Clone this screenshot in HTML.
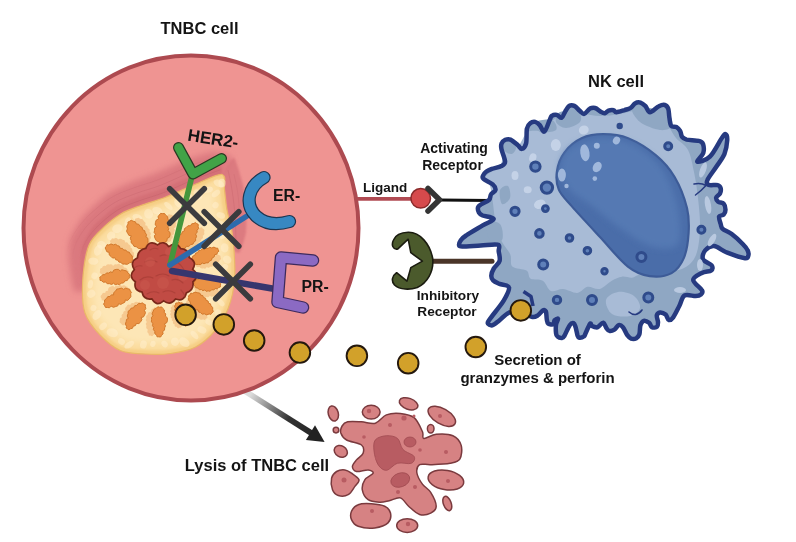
<!DOCTYPE html><html><head><meta charset="utf-8"><style>html,body{margin:0;padding:0;background:#fff;width:796px;height:542px;overflow:hidden}svg{display:block}</style></head><body><svg width="796" height="542" viewBox="0 0 796 542"><defs><linearGradient id="arrowg" x1="250" y1="395" x2="320" y2="439" gradientUnits="userSpaceOnUse"><stop offset="0" stop-color="#dcdcdc"/><stop offset="0.55" stop-color="#333"/><stop offset="1" stop-color="#222"/></linearGradient></defs>
<path d="M244 390.5 L312 433.5" stroke="url(#arrowg)" stroke-width="5.8"/>
<ellipse cx="191" cy="228" rx="167.5" ry="172.5" fill="#ef9492" stroke="#ad4a50" stroke-width="4"/>
<line x1="357" y1="198.8" x2="412" y2="198.8" stroke="#b04a52" stroke-width="3.8"/>
<defs><filter id="blur6" x="-50%" y="-50%" width="200%" height="200%"><feGaussianBlur stdDeviation="6"/></filter><filter id="blur3" x="-50%" y="-50%" width="200%" height="200%"><feGaussianBlur stdDeviation="3"/></filter><filter id="blur1" x="-50%" y="-50%" width="200%" height="200%"><feGaussianBlur stdDeviation="1.2"/></filter></defs>
<path d="M84.0 290.0 C85.0 287.2 84.1 266.2 84.5 262.0 C84.9 257.8 86.5 251.0 88.0 248.0 C89.5 245.0 95.8 235.3 99.0 232.0 C102.2 228.7 115.8 217.2 120.0 214.5 C124.2 211.8 136.5 207.2 141.0 205.5 C145.5 203.8 159.6 199.6 165.0 197.5 C170.4 195.4 189.3 186.8 195.0 184.5 C200.7 182.2 218.3 177.2 222.0 174.5 C225.7 171.8 232.8 160.3 232.0 158.0 C231.2 155.7 218.3 151.8 213.7 152.0 C209.0 152.2 191.1 158.3 185.3 160.4 C179.5 162.5 160.9 171.1 155.6 173.3 C150.3 175.4 137.0 180.0 132.2 182.1 C127.3 184.2 112.1 190.7 107.2 194.2 C102.3 197.7 86.8 212.3 83.1 216.8 C79.4 221.3 71.4 234.9 70.0 239.3 C68.5 243.7 68.2 255.4 68.6 260.5 C69.0 265.5 72.5 286.9 74.0 289.8 C75.5 292.8 83.0 292.8 84.0 290.0Z" fill="#d8747c" opacity="0.85" filter="url(#blur3)"/>
<path d="M84.0 290.0 C84.2 287.2 84.1 266.2 84.5 262.0 C84.9 257.8 86.5 251.0 88.0 248.0 C89.5 245.0 95.8 235.3 99.0 232.0 C102.2 228.7 115.8 217.2 120.0 214.5 C124.2 211.8 136.5 207.2 141.0 205.5 C145.5 203.8 159.6 199.6 165.0 197.5 C170.4 195.4 189.3 186.8 195.0 184.5 C200.7 182.2 219.6 176.3 222.0 174.5 C224.4 172.7 221.9 165.9 218.9 166.1 C215.8 166.2 197.3 173.8 191.6 176.2 C185.9 178.5 167.1 187.0 161.7 189.1 C156.4 191.2 142.5 195.3 137.8 197.1 C133.2 198.9 119.7 203.9 115.2 206.9 C110.7 209.8 96.5 222.6 93.2 226.5 C90.0 230.3 83.9 241.9 82.6 245.4 C81.3 248.9 80.6 257.2 80.5 261.6 C80.5 266.1 81.7 287.1 82.0 290.0 C82.3 292.8 83.8 292.8 84.0 290.0Z" fill="#d06a72" opacity="0.6" filter="url(#blur1)"/>
<defs><linearGradient id="strg" x1="85" y1="275" x2="140" y2="200" gradientUnits="userSpaceOnUse"><stop offset="0" stop-color="#bd5a64" stop-opacity="0"/><stop offset="0.6" stop-color="#bd5a64" stop-opacity="1"/></linearGradient></defs>
<path d="M79.5 261.5 C80.2 258.9 80.9 251.3 83.5 245.8 C86.1 240.3 89.7 234.5 95.4 228.5 C101.0 222.6 110.0 214.9 117.3 210.3 C124.6 205.7 131.6 203.7 139.2 200.8 C146.9 197.9 154.2 196.3 163.2 192.8 C172.2 189.3 183.6 183.7 193.1 179.9 C202.6 176.0 215.7 171.5 220.3 169.8" fill="none" stroke="url(#strg)" stroke-width="0.9" opacity="0.4"/>
<path d="M71.6 260.8 C72.3 257.7 73.3 248.6 76.3 242.3 C79.3 236.1 83.5 229.5 89.6 223.0 C95.7 216.5 105.3 208.5 113.1 203.5 C120.9 198.6 128.5 196.4 136.4 193.3 C144.3 190.3 151.3 188.9 160.3 185.4 C169.2 181.9 180.6 176.3 190.1 172.4 C199.7 168.6 212.9 164.0 217.5 162.3" fill="none" stroke="url(#strg)" stroke-width="0.9" opacity="0.3"/>
<path d="M65.6 260.2 C66.5 256.8 67.6 246.6 70.9 239.7 C74.2 232.8 78.8 225.8 85.3 218.9 C91.8 212.0 101.7 203.6 109.9 198.4 C118.0 193.2 126.2 190.8 134.3 187.7 C142.3 184.6 149.2 183.3 158.1 179.8 C167.0 176.3 178.3 170.7 187.9 166.9 C197.4 163.0 210.8 158.4 215.4 156.7" fill="none" stroke="url(#strg)" stroke-width="0.9" opacity="0.22"/>
<path d="M222.0 174.5 C221.1 177.7 224.0 186.4 224.5 190.0 C225.0 193.6 226.3 206.1 227.0 210.0 C227.7 213.9 230.8 225.0 231.5 229.0 C232.2 233.0 233.2 247.7 234.0 250.0 C234.8 252.3 238.8 253.8 240.0 252.0 C241.2 250.2 245.4 236.2 246.0 232.0 C246.6 227.8 246.3 214.7 246.0 210.0 C245.7 205.3 244.2 190.2 243.0 185.0 C241.8 179.8 236.1 159.1 234.0 158.0 C231.9 156.9 222.9 171.3 222.0 174.5Z" fill="#d8747c" opacity="0.8" filter="url(#blur1)"/>
<path d="M228.0 170.0 C228.7 173.3 230.8 182.5 232.0 190.0 C233.2 197.5 234.3 206.7 235.0 215.0 C235.7 223.3 235.8 235.8 236.0 240.0" fill="none" stroke="#bd5a64" stroke-width="0.9" opacity="0.3"/>
<path d="M234.0 174.0 C234.7 177.5 237.0 187.3 238.0 195.0 C239.0 202.7 239.7 215.8 240.0 220.0" fill="none" stroke="#bd5a64" stroke-width="0.9" opacity="0.22"/>
<path d="M222.0 174.5 C226.9 175.4 223.7 184.1 224.5 190.0 C225.3 195.9 225.8 203.5 227.0 210.0 C228.2 216.5 230.3 222.3 231.5 229.0 C232.7 235.7 233.5 241.5 234.0 250.0 C234.5 258.5 235.5 270.3 234.6 280.0 C233.7 289.7 231.5 299.7 228.3 308.0 C225.2 316.3 221.1 323.5 215.7 330.0 C210.2 336.5 203.1 343.1 195.6 347.0 C188.1 350.9 178.9 352.3 170.5 353.5 C162.1 354.7 153.8 354.5 145.4 354.0 C137.0 353.5 127.9 353.7 120.3 350.5 C112.7 347.3 105.9 341.2 100.0 335.0 C94.1 328.8 87.9 321.7 85.0 313.0 C82.1 304.3 82.1 293.8 82.6 283.0 C83.1 272.2 85.3 256.5 88.0 248.0 C90.7 239.5 93.7 237.6 99.0 232.0 C104.3 226.4 113.0 218.9 120.0 214.5 C127.0 210.1 133.5 208.3 141.0 205.5 C148.5 202.7 156.0 201.0 165.0 197.5 C174.0 194.0 185.5 188.3 195.0 184.5 C204.5 180.7 217.1 173.6 222.0 174.5Z" fill="#f6cf86" stroke="#eab868" stroke-width="1.2"/>
<path d="M221.3 178.4 C225.3 178.8 220.2 185.2 220.5 190.6 C220.8 195.9 221.9 204.2 223.1 210.7 C224.2 217.2 226.4 223.1 227.6 229.7 C228.7 236.3 229.5 241.9 230.0 250.2 C230.5 258.6 231.5 270.2 230.6 279.6 C229.7 289.0 227.6 298.6 224.6 306.6 C221.6 314.6 217.8 321.3 212.6 327.4 C207.5 333.6 200.9 339.8 193.8 343.5 C186.6 347.1 178.0 348.4 169.9 349.5 C161.9 350.6 153.7 350.5 145.6 350.0 C137.6 349.6 129.0 349.8 121.8 346.8 C114.7 343.9 108.4 338.1 102.9 332.3 C97.4 326.4 91.5 319.9 88.8 311.7 C86.1 303.6 86.1 293.6 86.6 283.2 C87.1 272.8 89.3 257.3 91.8 249.2 C94.4 241.2 96.8 240.0 101.9 234.8 C106.9 229.5 115.4 222.1 122.1 217.9 C128.9 213.6 135.0 212.0 142.4 209.2 C149.8 206.5 157.4 204.7 166.4 201.2 C175.5 197.7 187.4 192.0 196.5 188.2 C205.6 184.4 217.3 178.0 221.3 178.4Z" fill="#fbdc9e" filter="url(#blur1)"/>
<path d="M220.0 185.3 C222.4 184.8 214.2 187.1 213.6 191.5 C213.0 196.0 215.0 205.4 216.2 211.9 C217.3 218.5 219.5 224.4 220.7 230.9 C221.8 237.4 222.5 242.7 223.0 250.7 C223.5 258.7 224.5 270.0 223.7 278.9 C222.8 287.8 220.7 296.8 218.0 304.1 C215.3 311.4 211.9 317.4 207.3 322.9 C202.7 328.5 196.9 334.0 190.5 337.2 C184.1 340.5 176.4 341.6 169.0 342.6 C161.6 343.6 153.5 343.4 146.1 343.0 C138.7 342.6 130.9 342.9 124.5 340.4 C118.2 337.8 112.9 332.6 108.0 327.5 C103.2 322.3 97.8 316.8 95.4 309.5 C93.0 302.2 93.1 293.2 93.6 283.5 C94.1 273.8 96.2 258.7 98.5 251.4 C100.7 244.0 102.4 244.2 107.0 239.6 C111.5 235.0 119.5 227.8 125.9 223.8 C132.2 219.8 137.7 218.5 144.9 215.8 C152.1 213.1 159.9 211.3 169.0 207.8 C178.0 204.2 190.6 198.4 199.1 194.7 C207.6 191.0 217.6 185.8 220.0 185.3Z" fill="#fde6b6" filter="url(#blur3)"/>
<ellipse cx="222.0" cy="183.2" rx="4.4" ry="3.6" transform="rotate(91 222.0 183.2)" fill="#fff0cf" stroke="none" stroke-width="0" opacity="0.5"/>
<ellipse cx="215.9" cy="193.5" rx="4.8" ry="2.9" transform="rotate(142 215.9 193.5)" fill="#fff0cf" stroke="none" stroke-width="0" opacity="0.5"/>
<ellipse cx="215.5" cy="205.2" rx="3.3" ry="3.1" transform="rotate(124 215.5 205.2)" fill="#fff0cf" stroke="none" stroke-width="0" opacity="0.5"/>
<ellipse cx="220.8" cy="215.4" rx="3.1" ry="4.5" transform="rotate(110 220.8 215.4)" fill="#fff0cf" stroke="none" stroke-width="0" opacity="0.5"/>
<ellipse cx="221.5" cy="223.7" rx="3.5" ry="2.5" transform="rotate(34 221.5 223.7)" fill="#fff0cf" stroke="none" stroke-width="0" opacity="0.5"/>
<ellipse cx="223.2" cy="236.1" rx="3.7" ry="2.6" transform="rotate(151 223.2 236.1)" fill="#fff0cf" stroke="none" stroke-width="0" opacity="0.5"/>
<ellipse cx="224.6" cy="247.9" rx="4.6" ry="3.8" transform="rotate(82 224.6 247.9)" fill="#fff0cf" stroke="none" stroke-width="0" opacity="0.5"/>
<ellipse cx="227.2" cy="259.6" rx="3.8" ry="4.5" transform="rotate(127 227.2 259.6)" fill="#fff0cf" stroke="none" stroke-width="0" opacity="0.5"/>
<ellipse cx="224.6" cy="267.5" rx="3.9" ry="3.0" transform="rotate(137 224.6 267.5)" fill="#fff0cf" stroke="none" stroke-width="0" opacity="0.5"/>
<ellipse cx="225.0" cy="282.0" rx="4.2" ry="4.2" transform="rotate(152 225.0 282.0)" fill="#fff0cf" stroke="none" stroke-width="0" opacity="0.5"/>
<ellipse cx="224.6" cy="290.8" rx="3.0" ry="2.9" transform="rotate(176 224.6 290.8)" fill="#fff0cf" stroke="none" stroke-width="0" opacity="0.5"/>
<ellipse cx="221.1" cy="302.7" rx="4.2" ry="2.6" transform="rotate(48 221.1 302.7)" fill="#fff0cf" stroke="none" stroke-width="0" opacity="0.5"/>
<ellipse cx="217.9" cy="312.6" rx="3.3" ry="3.2" transform="rotate(21 217.9 312.6)" fill="#fff0cf" stroke="none" stroke-width="0" opacity="0.5"/>
<ellipse cx="208.8" cy="322.3" rx="3.7" ry="2.7" transform="rotate(31 208.8 322.3)" fill="#fff0cf" stroke="none" stroke-width="0" opacity="0.5"/>
<ellipse cx="201.9" cy="329.9" rx="4.7" ry="3.4" transform="rotate(23 201.9 329.9)" fill="#fff0cf" stroke="none" stroke-width="0" opacity="0.5"/>
<ellipse cx="194.5" cy="335.0" rx="4.9" ry="2.7" transform="rotate(48 194.5 335.0)" fill="#fff0cf" stroke="none" stroke-width="0" opacity="0.5"/>
<ellipse cx="184.3" cy="342.2" rx="5.9" ry="4.1" transform="rotate(37 184.3 342.2)" fill="#fff0cf" stroke="none" stroke-width="0" opacity="0.5"/>
<ellipse cx="175.0" cy="341.7" rx="4.2" ry="4.2" transform="rotate(178 175.0 341.7)" fill="#fff0cf" stroke="none" stroke-width="0" opacity="0.5"/>
<ellipse cx="164.6" cy="344.0" rx="3.6" ry="3.0" transform="rotate(53 164.6 344.0)" fill="#fff0cf" stroke="none" stroke-width="0" opacity="0.5"/>
<ellipse cx="152.9" cy="343.9" rx="3.2" ry="2.7" transform="rotate(108 152.9 343.9)" fill="#fff0cf" stroke="none" stroke-width="0" opacity="0.5"/>
<ellipse cx="143.4" cy="344.4" rx="4.1" ry="3.4" transform="rotate(103 143.4 344.4)" fill="#fff0cf" stroke="none" stroke-width="0" opacity="0.5"/>
<ellipse cx="129.3" cy="344.7" rx="5.6" ry="2.9" transform="rotate(147 129.3 344.7)" fill="#fff0cf" stroke="none" stroke-width="0" opacity="0.5"/>
<ellipse cx="121.5" cy="341.5" rx="3.7" ry="2.9" transform="rotate(35 121.5 341.5)" fill="#fff0cf" stroke="none" stroke-width="0" opacity="0.5"/>
<ellipse cx="112.3" cy="332.7" rx="5.9" ry="4.3" transform="rotate(18 112.3 332.7)" fill="#fff0cf" stroke="none" stroke-width="0" opacity="0.5"/>
<ellipse cx="103.1" cy="326.2" rx="3.1" ry="4.4" transform="rotate(46 103.1 326.2)" fill="#fff0cf" stroke="none" stroke-width="0" opacity="0.5"/>
<ellipse cx="97.0" cy="315.0" rx="5.5" ry="3.7" transform="rotate(129 97.0 315.0)" fill="#fff0cf" stroke="none" stroke-width="0" opacity="0.5"/>
<ellipse cx="93.5" cy="308.1" rx="3.2" ry="3.0" transform="rotate(110 93.5 308.1)" fill="#fff0cf" stroke="none" stroke-width="0" opacity="0.5"/>
<ellipse cx="91.3" cy="293.8" rx="3.8" ry="4.3" transform="rotate(48 91.3 293.8)" fill="#fff0cf" stroke="none" stroke-width="0" opacity="0.5"/>
<ellipse cx="90.4" cy="284.2" rx="4.3" ry="2.6" transform="rotate(102 90.4 284.2)" fill="#fff0cf" stroke="none" stroke-width="0" opacity="0.5"/>
<ellipse cx="94.6" cy="275.8" rx="3.4" ry="3.2" transform="rotate(118 94.6 275.8)" fill="#fff0cf" stroke="none" stroke-width="0" opacity="0.5"/>
<ellipse cx="93.3" cy="261.1" rx="5.1" ry="3.7" transform="rotate(3 93.3 261.1)" fill="#fff0cf" stroke="none" stroke-width="0" opacity="0.5"/>
<ellipse cx="98.2" cy="250.2" rx="5.7" ry="3.9" transform="rotate(114 98.2 250.2)" fill="#fff0cf" stroke="none" stroke-width="0" opacity="0.5"/>
<ellipse cx="101.4" cy="244.9" rx="4.4" ry="4.0" transform="rotate(13 101.4 244.9)" fill="#fff0cf" stroke="none" stroke-width="0" opacity="0.5"/>
<ellipse cx="111.1" cy="235.8" rx="4.6" ry="4.0" transform="rotate(126 111.1 235.8)" fill="#fff0cf" stroke="none" stroke-width="0" opacity="0.5"/>
<ellipse cx="117.4" cy="228.6" rx="5.4" ry="4.3" transform="rotate(162 117.4 228.6)" fill="#fff0cf" stroke="none" stroke-width="0" opacity="0.5"/>
<ellipse cx="127.9" cy="222.7" rx="5.6" ry="3.3" transform="rotate(103 127.9 222.7)" fill="#fff0cf" stroke="none" stroke-width="0" opacity="0.5"/>
<ellipse cx="137.2" cy="217.4" rx="4.9" ry="3.3" transform="rotate(14 137.2 217.4)" fill="#fff0cf" stroke="none" stroke-width="0" opacity="0.5"/>
<ellipse cx="148.6" cy="213.9" rx="4.9" ry="4.5" transform="rotate(69 148.6 213.9)" fill="#fff0cf" stroke="none" stroke-width="0" opacity="0.5"/>
<ellipse cx="157.3" cy="210.8" rx="5.2" ry="3.7" transform="rotate(15 157.3 210.8)" fill="#fff0cf" stroke="none" stroke-width="0" opacity="0.5"/>
<ellipse cx="168.4" cy="205.9" rx="5.3" ry="2.6" transform="rotate(41 168.4 205.9)" fill="#fff0cf" stroke="none" stroke-width="0" opacity="0.5"/>
<ellipse cx="178.5" cy="203.3" rx="5.1" ry="3.5" transform="rotate(46 178.5 203.3)" fill="#fff0cf" stroke="none" stroke-width="0" opacity="0.5"/>
<ellipse cx="188.9" cy="196.1" rx="3.0" ry="3.1" transform="rotate(30 188.9 196.1)" fill="#fff0cf" stroke="none" stroke-width="0" opacity="0.5"/>
<ellipse cx="198.0" cy="194.5" rx="5.7" ry="3.8" transform="rotate(58 198.0 194.5)" fill="#fff0cf" stroke="none" stroke-width="0" opacity="0.5"/>
<ellipse cx="208.1" cy="189.8" rx="5.0" ry="2.9" transform="rotate(164 208.1 189.8)" fill="#fff0cf" stroke="none" stroke-width="0" opacity="0.5"/>
<ellipse cx="218.8" cy="183.4" rx="5.6" ry="3.3" transform="rotate(24 218.8 183.4)" fill="#fff0cf" stroke="none" stroke-width="0" opacity="0.5"/>
<path d="M146.5 245.9 Q148.8 246.5 148.6 244.1 Q151.1 242.4 149.7 239.7 Q151.9 237.8 150.1 235.5 Q151.8 233.3 149.5 231.7 Q150.4 229.1 147.8 228.3 Q147.9 225.4 145.0 225.2 Q146.5 222.9 144.1 221.5 Q143.1 218.5 140.0 218.9 Q138.9 216.7 137.0 218.3 Q134.5 218.2 135.1 220.6 Q132.6 222.3 134.1 224.9 Q132.6 227.3 135.0 228.7 Q133.4 230.9 135.7 232.4 Q134.2 234.8 136.6 236.1 Q134.7 238.2 136.8 240.1 Q136.0 242.8 138.8 243.4 Q140.2 246.4 143.5 245.8 Q145.0 247.8 146.5 245.9Z" fill="#f4c389" opacity="0.85"/>
<path d="M164.8 242.3 Q166.7 244.2 168.3 242.0 Q171.3 241.9 171.3 238.9 Q173.7 237.6 172.1 235.3 Q174.7 234.5 173.8 232.0 Q175.8 230.1 173.8 228.2 Q176.4 227.5 175.6 224.8 Q177.0 222.3 174.5 220.9 Q175.6 218.2 173.0 216.8 Q173.2 214.3 170.7 214.8 Q168.5 213.3 167.4 215.6 Q164.7 216.3 165.5 219.0 Q162.7 219.5 163.3 222.2 Q160.9 223.4 162.3 225.8 Q159.4 225.9 159.3 228.9 Q156.9 230.2 158.5 232.5 Q157.3 235.1 159.8 236.5 Q159.2 239.5 162.1 240.7 Q162.4 243.2 164.8 242.3Z" fill="#f4c389" opacity="0.85"/>
<path d="M183.3 249.0 Q183.7 251.3 185.6 249.9 Q188.2 251.5 190.1 249.1 Q192.7 250.1 193.7 247.5 Q196.4 248.1 196.7 245.4 Q199.4 244.6 198.5 242.0 Q201.2 242.2 201.2 239.5 Q203.8 238.4 202.7 235.8 Q205.2 234.6 204.0 232.0 Q205.3 229.7 202.8 228.8 Q201.8 226.4 199.8 227.9 Q197.1 226.9 196.2 229.6 Q193.6 228.1 192.0 230.6 Q189.2 230.5 189.5 233.2 Q186.7 233.3 187.0 236.0 Q184.3 235.4 183.9 238.1 Q181.6 239.9 183.1 242.4 Q180.6 243.8 181.9 246.4 Q180.8 248.6 183.3 249.0Z" fill="#f4c389" opacity="0.85"/>
<path d="M194.0 263.5 Q193.2 265.7 195.5 265.5 Q196.9 268.0 199.4 266.7 Q200.7 269.3 203.4 268.2 Q205.8 269.5 206.7 267.0 Q208.8 268.7 210.2 266.4 Q212.8 267.3 213.5 264.7 Q216.2 265.1 216.5 262.3 Q219.2 262.9 219.7 260.2 Q222.0 259.4 220.5 257.3 Q221.0 254.9 218.5 255.0 Q217.2 252.5 214.5 253.7 Q212.8 251.6 210.9 253.5 Q208.3 252.6 207.7 255.2 Q205.7 253.4 204.1 255.6 Q202.1 253.7 200.6 255.9 Q198.5 254.2 197.1 256.4 Q194.0 257.4 194.4 260.6 Q192.2 261.8 194.0 263.5Z" fill="#f4c389" opacity="0.85"/>
<path d="M194.5 286.3 Q192.7 287.8 194.9 288.9 Q194.2 292.0 197.1 293.3 Q197.9 295.7 200.1 294.5 Q200.9 296.9 203.2 295.7 Q203.9 298.1 206.2 296.9 Q208.8 298.1 210.0 295.5 Q211.3 297.7 213.2 296.0 Q215.6 297.3 216.9 294.8 Q219.3 295.3 219.0 292.8 Q220.4 290.9 218.1 290.5 Q218.2 287.7 215.4 287.7 Q215.6 284.9 212.8 284.9 Q212.0 282.4 209.8 283.7 Q207.8 281.9 206.3 284.0 Q205.8 281.5 203.4 282.4 Q202.2 280.1 200.2 281.7 Q197.2 281.1 196.2 284.0 Q193.7 284.0 194.5 286.3Z" fill="#f4c389" opacity="0.85"/>
<path d="M188.6 297.8 Q186.2 298.0 187.4 300.0 Q185.1 302.4 186.7 305.3 Q186.5 307.9 189.2 307.8 Q187.6 310.2 190.0 311.8 Q190.7 314.4 193.3 313.5 Q192.7 316.1 195.4 316.4 Q196.1 319.1 198.8 318.2 Q200.5 320.6 203.1 319.2 Q204.9 320.9 206.1 318.6 Q208.4 317.9 207.0 315.9 Q208.9 313.6 206.9 311.4 Q207.8 308.9 205.2 308.2 Q205.2 305.5 202.5 305.8 Q203.6 303.3 201.1 302.4 Q200.7 299.7 198.1 300.3 Q197.7 297.6 195.1 298.3 Q193.6 295.7 191.1 297.0 Q189.2 295.5 188.6 297.8Z" fill="#f4c389" opacity="0.85"/>
<path d="M174.5 304.9 Q172.3 303.9 172.1 306.4 Q169.8 307.5 171.4 309.6 Q169.3 311.0 171.1 312.7 Q169.1 314.2 171.0 315.8 Q169.9 318.0 172.3 318.6 Q170.9 320.6 173.2 321.4 Q172.1 323.7 174.6 324.2 Q174.1 326.7 176.7 326.8 Q177.4 329.2 179.4 327.7 Q181.9 328.2 181.7 325.7 Q183.9 324.4 182.0 322.6 Q183.8 320.9 181.7 319.6 Q184.1 318.6 182.8 316.3 Q184.0 314.2 181.6 313.5 Q183.0 311.5 180.7 310.7 Q182.7 309.2 180.8 307.6 Q179.8 304.7 176.8 305.4 Q176.1 303.2 174.5 304.9Z" fill="#f4c389" opacity="0.85"/>
<path d="M156.6 308.1 Q154.8 306.3 153.6 308.5 Q150.7 308.8 151.1 311.7 Q148.0 311.7 147.6 314.7 Q145.2 315.9 146.5 318.2 Q144.8 320.4 147.1 322.1 Q144.8 323.6 146.5 325.7 Q145.4 328.4 148.0 329.8 Q146.4 332.1 148.7 333.7 Q148.3 336.1 150.7 335.6 Q152.7 337.0 153.4 334.7 Q156.2 334.1 155.5 331.4 Q158.2 330.7 157.4 328.0 Q160.1 327.4 159.5 324.7 Q162.3 324.3 161.8 321.5 Q164.1 319.9 162.4 317.8 Q163.9 315.4 161.5 313.9 Q162.0 310.8 159.1 309.6 Q158.9 307.2 156.6 308.1Z" fill="#f4c389" opacity="0.85"/>
<path d="M140.5 303.1 Q140.0 300.8 138.2 302.3 Q135.6 300.8 133.8 303.2 Q131.1 302.2 130.2 304.9 Q127.6 303.8 126.5 306.5 Q124.1 308.2 125.7 310.7 Q123.0 310.8 123.3 313.5 Q120.7 314.7 122.0 317.2 Q119.3 317.7 119.9 320.3 Q118.8 322.8 121.3 323.7 Q122.4 326.1 124.6 324.7 Q127.3 325.6 128.1 322.9 Q130.7 323.5 131.2 320.8 Q133.8 321.9 134.9 319.3 Q137.5 318.3 136.4 315.7 Q139.1 315.7 138.9 313.0 Q141.6 312.2 140.6 309.6 Q143.1 308.1 141.7 305.6 Q142.9 303.5 140.5 303.1Z" fill="#f4c389" opacity="0.85"/>
<path d="M127.9 288.8 Q128.5 286.4 126.1 286.6 Q124.3 284.3 121.9 285.9 Q120.0 284.0 118.1 286.0 Q115.6 284.8 114.6 287.3 Q112.8 285.1 110.6 286.8 Q107.6 287.7 108.1 290.7 Q105.3 290.4 105.1 293.1 Q102.5 292.2 101.8 294.8 Q99.6 296.5 101.5 298.4 Q101.3 301.0 103.8 300.5 Q105.6 302.8 108.0 301.1 Q109.9 303.1 111.8 301.0 Q114.4 301.8 115.1 299.2 Q116.7 301.7 119.3 300.2 Q122.2 300.3 122.2 297.5 Q125.1 297.7 125.2 294.8 Q128.1 294.6 127.9 291.7 Q129.9 290.3 127.9 288.8Z" fill="#f4c389" opacity="0.85"/>
<path d="M128.2 273.2 Q129.8 271.2 127.5 270.2 Q127.0 267.3 124.0 267.5 Q123.4 264.7 120.5 265.2 Q119.1 262.9 116.9 264.5 Q114.3 263.4 113.1 266.0 Q112.1 263.4 109.6 264.6 Q106.9 263.4 105.7 266.0 Q102.9 265.2 101.9 267.9 Q99.3 268.3 100.2 270.8 Q98.9 273.1 101.4 274.0 Q101.9 276.9 104.8 276.5 Q105.8 279.1 108.4 278.1 Q110.3 280.1 112.1 278.0 Q113.2 280.5 115.6 279.1 Q118.0 280.6 119.4 278.2 Q121.4 280.1 123.1 277.9 Q125.8 278.9 126.9 276.3 Q129.4 275.5 128.2 273.2Z" fill="#f4c389" opacity="0.85"/>
<path d="M132.7 257.8 Q135.2 257.1 133.8 255.0 Q134.9 252.3 132.2 251.2 Q133.1 248.5 130.4 247.6 Q131.2 245.0 128.5 244.2 Q127.6 241.6 125.1 242.6 Q125.4 239.9 122.6 239.8 Q120.5 237.7 118.1 239.5 Q116.4 237.2 114.0 238.7 Q111.9 237.3 111.2 239.7 Q109.0 240.9 110.7 242.6 Q109.1 245.4 111.5 247.4 Q110.6 250.1 113.3 250.9 Q112.8 253.6 115.5 254.0 Q116.9 256.5 119.4 255.1 Q120.2 257.7 122.8 256.8 Q122.9 259.5 125.6 259.1 Q127.9 261.1 130.3 259.1 Q132.5 260.2 132.7 257.8Z" fill="#f4c389" opacity="0.85"/>
<path d="M144.3 248.1 Q146.7 248.3 145.9 246.1 Q148.8 243.9 148.0 240.3 Q148.6 237.6 145.9 236.9 Q147.5 234.5 145.2 232.8 Q145.4 229.9 142.5 229.7 Q143.0 226.9 140.2 226.4 Q139.3 223.5 136.3 223.9 Q136.0 221.0 133.1 221.2 Q131.1 219.3 129.5 221.4 Q127.1 221.7 128.1 223.9 Q125.8 226.1 127.4 228.9 Q125.6 231.2 127.7 233.3 Q128.3 236.2 131.3 235.9 Q129.3 238.2 131.2 240.5 Q130.2 243.1 132.9 244.2 Q133.4 247.1 136.4 246.8 Q138.4 249.5 141.7 248.4 Q143.2 250.3 144.3 248.1Z" fill="#eb9244" stroke="#d27a2e" stroke-width="1"/>
<path d="M161.7 243.1 Q163.8 244.6 164.9 242.2 Q167.7 241.4 167.2 238.4 Q170.2 237.8 170.1 234.7 Q170.7 231.7 167.9 230.7 Q169.8 228.7 167.7 226.9 Q170.3 225.7 169.1 223.1 Q170.4 220.5 167.9 219.2 Q168.5 216.2 165.6 215.2 Q165.1 212.7 162.7 213.6 Q160.3 212.4 159.3 215.0 Q157.0 216.6 158.7 218.8 Q155.6 219.4 155.4 222.6 Q154.3 225.3 156.9 226.5 Q154.0 227.3 154.5 230.3 Q153.2 232.8 155.7 234.2 Q153.3 235.7 154.9 238.0 Q155.7 241.5 159.2 242.0 Q159.7 244.4 161.7 243.1Z" fill="#eb9244" stroke="#d27a2e" stroke-width="1"/>
<path d="M180.2 248.0 Q181.1 250.3 183.0 248.7 Q185.8 249.1 186.3 246.3 Q189.2 247.3 190.7 244.6 Q193.6 244.9 193.9 242.1 Q196.5 241.2 195.6 238.6 Q197.6 236.2 195.5 233.9 Q198.1 232.8 197.0 230.2 Q199.5 228.8 198.1 226.3 Q199.2 224.0 196.7 223.6 Q195.3 221.5 194.0 223.5 Q191.1 223.0 190.5 225.8 Q187.6 224.8 186.1 227.6 Q183.4 228.3 184.3 231.0 Q181.5 231.1 181.7 233.9 Q178.9 233.6 178.6 236.4 Q176.9 239.2 179.2 241.5 Q177.0 243.4 178.7 245.8 Q177.8 248.0 180.2 248.0Z" fill="#eb9244" stroke="#d27a2e" stroke-width="1"/>
<path d="M192.0 260.9 Q191.5 263.2 193.8 262.6 Q195.5 265.4 198.7 264.5 Q201.3 265.5 202.0 262.8 Q204.0 264.8 206.0 262.8 Q208.6 263.8 209.4 261.1 Q212.2 260.9 212.1 258.0 Q215.0 257.5 214.7 254.6 Q217.4 255.0 217.7 252.2 Q219.9 251.4 218.2 249.7 Q218.2 247.3 216.0 248.2 Q214.0 246.1 211.8 248.0 Q209.7 246.2 208.0 248.5 Q205.7 247.1 204.4 249.5 Q202.2 248.0 200.7 250.3 Q198.0 249.9 197.7 252.6 Q194.9 252.5 194.8 255.3 Q191.9 255.6 192.1 258.5 Q190.1 259.6 192.0 260.9Z" fill="#eb9244" stroke="#d27a2e" stroke-width="1"/>
<path d="M194.0 282.9 Q192.5 284.8 194.8 285.7 Q195.2 288.5 198.0 288.1 Q198.9 290.7 201.4 289.5 Q202.8 291.7 204.8 289.9 Q206.0 292.3 208.1 290.8 Q210.5 292.2 211.7 289.7 Q214.2 290.9 215.2 288.4 Q217.5 289.8 218.7 287.5 Q221.2 287.5 220.4 285.2 Q221.7 282.9 219.2 282.3 Q218.2 279.9 215.8 281.2 Q214.7 278.8 212.5 280.3 Q211.9 277.6 209.2 278.2 Q207.4 276.3 205.8 278.3 Q204.8 275.9 202.4 277.1 Q199.7 276.4 198.8 279.1 Q196.0 278.4 195.2 281.1 Q193.0 280.9 194.0 282.9Z" fill="#eb9244" stroke="#d27a2e" stroke-width="1"/>
<path d="M190.0 294.8 Q187.5 295.5 188.8 297.7 Q187.6 300.4 190.2 301.9 Q189.6 304.6 192.3 305.1 Q191.9 307.8 194.6 308.1 Q195.4 310.8 198.0 309.9 Q197.8 312.7 200.6 312.6 Q201.9 315.1 204.4 313.8 Q206.7 315.9 209.2 313.9 Q211.1 315.4 211.8 313.1 Q214.2 311.9 212.7 309.7 Q213.6 307.0 211.0 306.0 Q211.3 303.3 208.5 303.1 Q208.8 300.4 206.1 300.3 Q206.3 297.5 203.5 297.5 Q203.5 294.8 200.7 295.1 Q200.5 292.4 197.8 292.8 Q194.9 291.1 192.5 293.4 Q190.2 292.3 190.0 294.8Z" fill="#eb9244" stroke="#d27a2e" stroke-width="1"/>
<path d="M177.5 302.9 Q175.1 302.4 175.4 304.8 Q173.5 306.6 175.6 308.1 Q173.6 309.7 175.5 311.6 Q174.5 313.9 177.0 314.3 Q175.1 316.2 177.3 317.6 Q176.1 319.9 178.6 320.5 Q178.5 323.1 181.1 322.8 Q181.7 325.5 184.5 324.9 Q185.0 327.1 186.7 325.6 Q189.1 325.6 188.3 323.3 Q190.0 321.4 187.8 320.1 Q190.2 318.7 188.7 316.4 Q189.0 313.8 186.4 313.9 Q187.8 311.8 185.4 310.9 Q186.7 308.7 184.2 308.0 Q186.1 306.2 183.9 304.7 Q182.8 302.0 180.0 303.0 Q178.8 300.9 177.5 302.9Z" fill="#eb9244" stroke="#d27a2e" stroke-width="1"/>
<path d="M159.7 307.3 Q157.5 305.8 156.4 308.2 Q153.2 308.7 152.9 311.9 Q151.0 314.0 153.1 315.8 Q150.5 317.0 151.6 319.6 Q150.4 322.3 153.0 323.5 Q151.5 325.9 153.8 327.4 Q152.4 329.8 154.8 331.3 Q154.0 334.1 156.7 335.2 Q156.4 337.6 158.7 336.8 Q161.0 337.9 161.6 335.4 Q164.1 334.0 162.6 331.6 Q165.4 330.6 164.7 327.8 Q166.5 325.7 164.4 323.9 Q167.5 323.3 167.5 320.2 Q168.2 317.3 165.4 316.2 Q166.7 313.7 164.2 312.3 Q165.4 309.7 162.8 308.4 Q161.9 306.0 159.7 307.3Z" fill="#eb9244" stroke="#d27a2e" stroke-width="1"/>
<path d="M143.6 304.0 Q142.7 301.8 140.9 303.5 Q138.0 302.6 136.8 305.4 Q134.0 305.0 133.5 307.9 Q130.6 307.3 129.9 310.1 Q127.2 310.9 128.1 313.6 Q126.2 316.1 128.4 318.4 Q125.7 318.8 126.2 321.5 Q124.4 324.1 126.6 326.4 Q125.2 328.3 127.5 328.8 Q128.9 330.8 130.3 328.8 Q133.1 329.0 133.3 326.2 Q136.1 326.3 136.3 323.5 Q139.3 324.5 140.7 321.8 Q142.9 319.7 141.1 317.4 Q143.9 317.9 144.5 315.0 Q146.5 312.6 144.4 310.4 Q146.8 308.8 145.3 306.3 Q146.1 304.0 143.6 304.0Z" fill="#eb9244" stroke="#d27a2e" stroke-width="1"/>
<path d="M130.3 291.1 Q130.4 288.5 127.8 288.8 Q125.5 287.1 123.7 289.4 Q121.5 287.1 118.9 288.8 Q116.1 288.3 115.7 291.0 Q112.9 292.1 113.6 295.0 Q111.0 293.9 110.0 296.5 Q107.3 295.7 106.6 298.4 Q103.8 299.5 104.5 302.4 Q102.6 304.2 104.7 305.8 Q105.0 308.3 107.4 307.5 Q109.9 308.7 111.1 306.1 Q113.3 308.3 115.8 306.5 Q118.6 306.5 118.5 303.6 Q120.8 305.4 122.8 303.3 Q125.6 302.8 125.3 299.9 Q127.8 301.4 129.2 298.9 Q131.8 296.9 130.7 293.7 Q132.4 292.1 130.3 291.1Z" fill="#eb9244" stroke="#d27a2e" stroke-width="1"/>
<path d="M129.3 276.2 Q130.6 274.0 128.1 273.2 Q127.2 270.1 123.9 270.3 Q121.6 268.8 120.2 271.2 Q119.0 268.4 116.1 269.4 Q113.0 269.4 112.5 272.5 Q110.3 270.9 108.7 273.1 Q106.1 272.0 105.0 274.7 Q102.2 273.8 101.3 276.4 Q98.9 276.7 100.0 278.8 Q99.3 281.1 101.6 280.7 Q103.0 283.2 105.6 281.9 Q106.8 284.6 109.6 283.7 Q111.8 285.4 113.5 283.2 Q115.0 285.6 117.4 284.1 Q119.8 285.6 121.2 283.2 Q124.1 283.7 124.9 280.9 Q127.8 281.3 128.5 278.4 Q130.8 278.0 129.3 276.2Z" fill="#eb9244" stroke="#d27a2e" stroke-width="1"/>
<path d="M132.0 260.9 Q134.1 259.9 132.3 258.3 Q133.1 255.3 130.3 254.2 Q129.9 251.4 127.2 251.8 Q126.3 249.2 123.7 250.1 Q122.9 247.5 120.2 248.4 Q120.2 245.6 117.4 245.6 Q115.7 243.3 113.3 244.9 Q111.0 243.0 108.8 245.0 Q106.7 243.8 106.4 246.2 Q104.2 247.8 106.0 249.8 Q106.3 252.6 109.1 252.3 Q108.3 255.2 111.1 256.5 Q112.3 259.0 114.8 257.7 Q115.1 260.5 117.9 260.2 Q118.4 262.9 121.1 262.3 Q121.9 265.0 124.6 264.0 Q127.7 265.2 129.9 262.6 Q132.1 263.3 132.0 260.9Z" fill="#eb9244" stroke="#d27a2e" stroke-width="1"/>
<path d="M134.3 269.6 Q129.3 261.8 137.5 257.7 Q137.8 249.6 145.8 248.4 Q149.4 239.4 157.5 244.9 Q164.1 239.8 168.9 246.7 Q175.9 240.5 180.7 248.6 Q189.0 249.2 189.2 257.5 Q197.5 261.5 192.7 269.3 Q200.6 275.4 192.9 281.9 Q194.3 290.2 186.4 292.9 Q184.3 302.1 175.5 299.0 Q170.5 305.9 163.6 300.9 Q156.5 307.2 151.9 298.9 Q143.7 300.2 142.0 292.0 Q133.2 290.5 135.4 281.8 Q127.7 276.3 134.3 269.6Z" fill="#c14b44" stroke="#7a281a" stroke-width="1.7"/>
<path d="M145 262 q6 -4 12 0" fill="none" stroke="#a23a34" stroke-width="1.1" opacity="0.6" stroke-linecap="round"/>
<path d="M160 256 q7 -3 12 2" fill="none" stroke="#a23a34" stroke-width="1.1" opacity="0.6" stroke-linecap="round"/>
<path d="M176 262 q5 2 8 8" fill="none" stroke="#a23a34" stroke-width="1.1" opacity="0.6" stroke-linecap="round"/>
<path d="M140 280 q6 -5 13 -2" fill="none" stroke="#a23a34" stroke-width="1.1" opacity="0.6" stroke-linecap="round"/>
<path d="M156 276 q7 -4 13 0" fill="none" stroke="#a23a34" stroke-width="1.1" opacity="0.6" stroke-linecap="round"/>
<path d="M172 280 q6 -2 11 3" fill="none" stroke="#a23a34" stroke-width="1.1" opacity="0.6" stroke-linecap="round"/>
<path d="M147 294 q6 -4 12 -1" fill="none" stroke="#a23a34" stroke-width="1.1" opacity="0.6" stroke-linecap="round"/>
<path d="M163 292 q6 -3 12 1" fill="none" stroke="#a23a34" stroke-width="1.1" opacity="0.6" stroke-linecap="round"/>
<path d="M150 250 q4 -3 8 -1" fill="none" stroke="#a23a34" stroke-width="1.1" opacity="0.6" stroke-linecap="round"/>
<path d="M181 290 q3 3 4 7" fill="none" stroke="#a23a34" stroke-width="1.1" opacity="0.6" stroke-linecap="round"/>
<path d="M134 268 q4 -3 8 -2" fill="none" stroke="#a23a34" stroke-width="1.1" opacity="0.6" stroke-linecap="round"/>
<circle cx="150" cy="262" r="5" fill="#cc5a50" opacity="0.45"/>
<circle cx="170" cy="252" r="5" fill="#cc5a50" opacity="0.45"/>
<circle cx="163" cy="283" r="6" fill="#cc5a50" opacity="0.45"/>
<circle cx="183" cy="276" r="5" fill="#cc5a50" opacity="0.45"/>
<circle cx="145" cy="285" r="5" fill="#cc5a50" opacity="0.45"/>
<line x1="170" y1="265" x2="192" y2="176" stroke="#45963c" stroke-width="5.6" stroke-linecap="round"/>
<line x1="170" y1="265" x2="247" y2="216" stroke="#2d6bad" stroke-width="5.6" stroke-linecap="round"/>
<line x1="172" y1="271" x2="275" y2="289" stroke="#36366e" stroke-width="6.5" stroke-linecap="round"/>
<path d="M178.5 147.5 L193 174 L221.5 158.5" fill="none" stroke="#2a3a22" stroke-width="11" stroke-linecap="round" stroke-linejoin="round"/>
<path d="M178.5 147.5 L193 174 L221.5 158.5" fill="none" stroke="#41a347" stroke-width="8.6" stroke-linecap="round" stroke-linejoin="round"/>
<path d="M264 177.5 C248.5 186 244 204 256 216 C265.5 224.5 278 225 289.5 221.5" fill="none" stroke="#1d3752" stroke-width="13.2" stroke-linecap="round"/>
<path d="M264 177.5 C248.5 186 244 204 256 216 C265.5 224.5 278 225 289.5 221.5" fill="none" stroke="#3788c2" stroke-width="10.8" stroke-linecap="round"/>
<path d="M313 260.5 L281 257.5 L277.5 302 L303 307.5" fill="none" stroke="#3d2a5c" stroke-width="12.5" stroke-linecap="round" stroke-linejoin="round"/>
<path d="M313 260.5 L281 257.5 L277.5 302 L303 307.5" fill="none" stroke="#8b6ac3" stroke-width="10" stroke-linecap="round" stroke-linejoin="round"/>
<path d="M169.7 188.7 L204.3 223.3 M204.3 188.7 L169.7 223.3" stroke="#3b3b3e" stroke-width="5.6" stroke-linecap="round"/>
<path d="M204.2 211.7 L238.8 246.3 M238.8 211.7 L204.2 246.3" stroke="#3b3b3e" stroke-width="5.6" stroke-linecap="round"/>
<path d="M215.7 264.2 L250.3 298.8 M250.3 264.2 L215.7 298.8" stroke="#3b3b3e" stroke-width="5.6" stroke-linecap="round"/>
<line x1="440" y1="200" x2="490" y2="200.5" stroke="#111" stroke-width="3"/>
<circle cx="420.7" cy="198.3" r="9.8" fill="#d64a4c" stroke="#8a2a2a" stroke-width="1.5"/>
<path d="M428 188.5 L439.5 199.7 L428 211" fill="none" stroke="#343434" stroke-width="5.5" stroke-linecap="round" stroke-linejoin="round"/>
<line x1="430" y1="261.2" x2="492" y2="261.2" stroke="#4a3528" stroke-width="5" stroke-linecap="round"/>
<path d="M397.9 248.9 C393 250 391 245 393.5 240 C396 234 402 232.5 408.2 232.3 C420 232 430 244 432.7 258.5 C434 272 427 283 417.3 287.5 C410 290 400 290 394.5 285 C391 281 392 276 396.6 272.7 L407 281.1 L410.8 267.6 L422.4 261.1 L410.8 252.7 L408.2 239.2 Z" fill="#4b5a2c" stroke="#1b1c10" stroke-width="1.6" stroke-linejoin="round"/>
<path d="M459.1 245.2 C458.9 244.2 459.7 241.9 460.8 240.3 C462.0 238.6 462.4 237.9 466.1 235.5 C469.7 233.0 478.1 228.2 482.7 225.4 C487.3 222.7 493.7 220.7 493.7 219.0 C493.7 217.3 485.2 216.5 482.7 215.5 C480.2 214.4 479.7 213.8 478.9 212.5 C478.2 211.2 477.7 208.7 478.0 207.4 C478.4 206.0 479.0 205.7 480.8 204.5 C482.6 203.2 487.4 201.6 489.1 199.9 C490.8 198.3 489.9 196.1 491.0 194.4 C492.0 192.7 495.3 191.5 495.5 189.9 C495.8 188.2 494.7 186.2 492.7 184.4 C490.7 182.6 485.1 180.4 483.5 178.9 C481.9 177.5 482.6 176.8 483.1 175.5 C483.6 174.3 485.0 172.6 486.4 171.5 C487.9 170.4 489.3 169.8 491.8 168.9 C494.3 168.0 499.2 167.3 501.4 166.1 C503.7 164.9 505.1 164.5 505.1 161.6 C505.1 158.7 501.9 151.8 501.4 148.8 C500.8 145.8 500.9 145.0 501.6 143.5 C502.2 142.0 503.8 140.5 505.3 139.8 C506.7 139.2 508.4 138.7 510.5 139.6 C512.6 140.5 516.0 143.6 517.9 145.2 C519.7 146.7 520.2 149.2 521.6 148.9 C522.9 148.6 525.2 146.7 526.1 143.3 C527.0 140.0 526.2 132.1 526.9 128.7 C527.6 125.4 528.8 124.4 530.2 123.3 C531.5 122.2 533.6 121.6 535.2 121.9 C536.8 122.2 538.2 123.5 539.7 125.1 C541.2 126.7 542.7 132.4 544.4 131.5 C546.1 130.6 548.5 122.3 549.8 119.7 C551.0 117.0 550.7 116.5 551.9 115.8 C553.1 115.0 555.4 114.6 557.0 115.0 C558.7 115.3 560.3 118.4 561.7 117.8 C563.0 117.2 564.1 113.3 565.3 111.3 C566.5 109.4 567.6 106.9 569.1 106.0 C570.6 105.1 572.5 105.1 574.3 105.9 C576.1 106.7 578.2 109.5 579.8 110.9 C581.5 112.2 582.5 114.3 584.2 113.9 C585.9 113.5 588.1 109.6 589.9 108.6 C591.8 107.6 593.3 107.4 595.1 108.0 C596.9 108.5 599.1 110.8 600.7 111.7 C602.3 112.6 603.6 113.4 604.9 113.2 C606.2 113.0 607.1 111.2 608.5 110.7 C610.0 110.2 612.4 110.0 613.7 110.3 C615.0 110.5 614.5 112.3 616.3 112.3 C618.1 112.2 622.1 110.8 624.5 110.1 C626.9 109.3 628.8 109.0 630.6 107.9 C632.4 106.7 633.6 104.1 635.3 103.2 C636.9 102.3 638.8 102.1 640.5 102.6 C642.2 103.1 643.9 104.6 645.5 106.2 C647.1 107.8 647.7 112.2 650.0 112.2 C652.2 112.2 656.4 107.3 658.9 106.2 C661.4 105.0 663.2 104.6 664.8 105.0 C666.4 105.5 667.5 106.8 668.3 108.9 C669.0 111.0 668.9 114.8 669.4 117.7 C669.9 120.5 670.0 124.4 671.2 125.9 C672.4 127.5 675.0 126.3 676.5 127.1 C677.9 128.0 679.2 129.2 680.1 130.8 C681.1 132.5 681.0 135.5 682.1 136.9 C683.2 138.4 683.9 138.9 686.7 139.6 C689.6 140.2 696.3 140.1 699.0 140.9 C701.8 141.6 702.4 142.1 703.1 144.2 C703.7 146.2 704.2 150.3 703.2 153.2 C702.3 156.1 696.3 161.1 697.4 161.7 C698.5 162.2 705.8 160.6 709.9 156.6 C714.0 152.7 719.3 141.5 722.0 137.7 C724.6 134.0 724.9 133.7 725.8 134.2 C726.7 134.6 727.4 137.1 727.2 140.4 C727.0 143.7 726.2 149.7 724.4 154.1 C722.5 158.5 719.1 162.5 716.3 166.8 C713.5 171.2 708.6 177.0 707.4 180.1 C706.1 183.1 707.0 184.1 708.8 184.9 C710.5 185.7 715.8 184.5 717.8 185.1 C719.7 185.6 720.3 186.9 720.7 188.3 C721.0 189.7 720.8 191.9 720.0 193.5 C719.3 195.0 716.5 196.2 716.2 197.5 C715.9 198.9 717.0 200.7 718.2 201.7 C719.5 202.7 722.5 202.3 723.7 203.7 C724.9 205.0 725.5 207.8 725.5 209.7 C725.5 211.5 724.8 213.4 723.7 214.6 C722.7 215.7 719.6 215.0 719.1 216.5 C718.6 218.1 720.1 221.9 720.7 224.0 C721.3 226.0 720.9 227.2 722.7 228.9 C724.5 230.6 728.4 231.5 731.7 234.1 C735.0 236.6 740.1 241.3 742.7 244.0 C745.4 246.7 746.6 248.2 747.5 250.1 C748.5 251.9 748.8 253.8 748.4 255.2 C747.9 256.6 748.5 258.7 745.0 258.3 C741.5 257.8 732.5 254.7 727.3 252.7 C722.2 250.7 717.7 246.5 714.0 246.1 C710.3 245.7 707.0 248.3 705.2 250.4 C703.3 252.6 701.9 256.8 703.0 259.2 C704.1 261.7 710.3 263.5 711.6 265.3 C713.0 267.2 712.9 269.3 711.2 270.5 C709.6 271.8 705.0 271.3 701.9 272.9 C698.9 274.5 693.2 277.0 693.2 279.9 C693.2 282.8 700.8 287.9 702.0 290.4 C703.3 292.8 701.8 293.7 700.7 294.6 C699.7 295.6 698.5 296.0 695.8 296.1 C693.1 296.3 687.3 293.9 684.5 295.5 C681.8 297.2 681.2 302.4 679.3 306.0 C677.4 309.7 675.0 314.9 673.2 317.3 C671.5 319.6 670.1 320.4 668.8 320.0 C667.5 319.5 667.0 315.7 665.6 314.4 C664.1 313.2 661.5 312.3 660.1 312.4 C658.6 312.6 657.2 313.8 656.8 315.4 C656.5 317.0 657.9 320.0 658.0 321.9 C658.0 323.8 658.1 325.8 657.1 326.7 C656.1 327.6 653.3 327.9 651.9 327.3 C650.6 326.6 650.5 323.9 649.1 322.8 C647.8 321.8 645.1 320.4 643.7 320.8 C642.2 321.2 641.2 323.0 640.4 325.3 C639.7 327.5 640.1 332.1 639.4 334.3 C638.7 336.4 637.7 337.4 636.3 338.2 C635.0 338.9 632.6 339.1 631.1 338.6 C629.6 338.1 628.7 337.1 627.3 335.2 C625.9 333.3 624.4 328.9 622.9 327.2 C621.5 325.6 620.0 324.8 618.6 325.2 C617.2 325.6 616.0 328.7 614.4 329.7 C612.9 330.6 610.7 331.2 609.4 330.9 C608.1 330.7 607.5 329.6 606.5 328.2 C605.5 326.8 604.5 323.0 603.3 322.7 C602.0 322.4 599.9 325.4 598.8 326.2 C597.8 327.0 598.1 327.5 597.0 327.5 C595.8 327.5 593.1 326.7 592.0 326.1 C590.8 325.4 591.2 322.5 590.1 323.7 C589.1 324.9 586.6 331.1 585.6 333.2 C584.6 335.3 585.2 335.6 584.1 336.3 C583.0 337.1 580.1 337.9 579.1 337.7 C578.0 337.6 578.1 337.2 577.5 335.4 C577.0 333.7 576.2 329.3 575.6 327.2 C574.9 325.2 574.6 323.6 573.6 323.2 C572.6 322.9 571.2 323.2 569.7 325.3 C568.2 327.3 565.8 333.4 564.6 335.5 C563.3 337.6 563.5 337.7 562.2 337.9 C561.0 338.0 558.3 337.2 557.3 336.3 C556.2 335.5 556.2 334.7 556.0 332.8 C555.8 330.9 555.7 327.1 556.0 324.8 C556.3 322.5 558.3 319.6 558.0 318.8 C557.8 318.1 555.3 319.4 554.5 320.3 C553.8 321.2 554.5 323.7 553.5 324.3 C552.5 324.8 549.5 324.5 548.3 323.6 C547.2 322.8 547.2 321.4 546.8 319.4 C546.4 317.3 546.5 312.9 545.9 311.4 C545.2 309.9 544.1 309.7 542.8 310.4 C541.5 311.1 539.6 314.3 537.8 315.4 C536.0 316.5 534.6 317.7 531.8 316.9 C529.1 316.2 525.4 311.7 521.5 311.0 C517.7 310.3 512.6 311.1 508.9 312.7 C505.2 314.3 502.1 318.4 499.3 320.5 C496.6 322.6 494.3 324.9 492.4 325.3 C490.4 325.7 487.8 324.4 487.7 323.0 C487.6 321.5 489.1 320.3 491.7 316.6 C494.3 313.0 500.4 306.0 503.3 301.2 C506.2 296.3 509.7 290.5 509.0 287.6 C508.4 284.7 502.2 285.1 499.5 283.9 C496.8 282.7 494.5 281.8 493.1 280.4 C491.7 279.0 491.2 277.6 491.3 275.6 C491.4 273.6 492.4 270.9 493.8 268.5 C495.2 266.0 498.8 263.7 499.6 260.8 C500.4 257.9 499.0 253.9 498.7 251.2 C498.4 248.5 500.8 245.6 497.8 244.7 C494.8 243.7 486.7 245.2 480.8 245.5 C474.9 245.8 465.9 246.5 462.3 246.5 C458.7 246.4 459.4 246.2 459.1 245.2Z" fill="#8fa7c3"/>
<path d="M486.0 176.0 C487.7 172.7 496.8 170.3 500.0 166.0 C503.2 161.7 502.0 153.3 505.0 150.0 C508.0 146.7 514.2 149.0 518.0 146.0 C521.8 143.0 523.5 134.7 528.0 132.0 C532.5 129.3 540.3 132.3 545.0 130.0 C549.7 127.7 550.2 120.7 556.0 118.0 C561.8 115.3 572.7 114.3 580.0 114.0 C587.3 113.7 593.3 116.0 600.0 116.0 C606.7 116.0 613.3 115.0 620.0 114.0 C626.7 113.0 634.0 109.7 640.0 110.0 C646.0 110.3 651.3 113.3 656.0 116.0 C660.7 118.7 664.7 122.3 668.0 126.0 C671.3 129.7 672.7 134.0 676.0 138.0 C679.3 142.0 685.0 144.3 688.0 150.0 C691.0 155.7 692.3 164.0 694.0 172.0 C695.7 180.0 697.0 188.7 698.0 198.0 C699.0 207.3 700.3 218.5 700.0 228.0 C699.7 237.5 698.7 248.3 696.0 255.0 C693.3 261.7 689.3 265.2 684.0 268.0 C678.7 270.8 671.3 270.9 664.0 272.0 C656.7 273.1 645.3 273.8 640.0 274.7 C634.7 275.6 635.0 277.4 632.0 277.7 C629.0 278.0 625.3 276.2 621.9 276.7 C618.5 277.2 615.5 278.7 611.8 280.7 C608.1 282.7 603.7 287.9 599.6 288.9 C595.5 289.9 591.1 286.1 587.4 286.8 C583.7 287.5 581.4 292.5 577.3 292.9 C573.2 293.2 567.4 289.2 563.0 288.9 C558.6 288.6 554.3 292.3 550.9 290.9 C547.5 289.5 546.2 282.7 542.8 280.7 C539.4 278.7 533.3 280.4 530.6 278.7 C527.9 277.0 529.5 272.6 526.5 270.6 C523.5 268.6 515.0 269.2 512.3 266.5 C509.6 263.8 512.0 258.4 510.3 254.4 C508.6 250.3 504.6 246.6 502.2 242.2 C499.8 237.8 497.4 233.0 496.0 228.0 C494.6 223.0 494.7 217.3 494.0 212.0 C493.3 206.7 492.7 200.3 492.0 196.0 C491.3 191.7 491.0 189.3 490.0 186.0 C489.0 182.7 484.3 179.3 486.0 176.0Z" fill="#a8bbd6"/>
<path d="M606.0 300.0 C607.0 296.3 613.3 292.7 618.0 292.0 C622.7 291.3 630.3 293.3 634.0 296.0 C637.7 298.7 640.7 304.7 640.0 308.0 C639.3 311.3 634.7 315.0 630.0 316.0 C625.3 317.0 616.0 316.7 612.0 314.0 C608.0 311.3 605.0 303.7 606.0 300.0Z" fill="#a8bbd6"/>
<path d="M560.0 112.0 C563.7 110.3 574.7 110.3 578.0 112.0 C581.3 113.7 582.0 119.3 580.0 122.0 C578.0 124.7 570.0 128.0 566.0 128.0 C562.0 128.0 557.0 124.7 556.0 122.0 C555.0 119.3 556.3 113.7 560.0 112.0Z" fill="#8fa7c3"/>
<path d="M632.0 108.0 C633.7 105.7 644.0 107.0 650.0 108.0 C656.0 109.0 664.3 111.0 668.0 114.0 C671.7 117.0 673.3 123.3 672.0 126.0 C670.7 128.7 665.3 130.7 660.0 130.0 C654.7 129.3 644.7 125.7 640.0 122.0 C635.3 118.3 630.3 110.3 632.0 108.0Z" fill="#8fa7c3"/>
<path d="M500.0 190.0 C501.0 187.0 506.3 184.7 508.0 186.0 C509.7 187.3 511.0 195.0 510.0 198.0 C509.0 201.0 503.7 205.3 502.0 204.0 C500.3 202.7 499.0 193.0 500.0 190.0Z" fill="#8fa7c3"/>
<path d="M506.0 140.0 C508.0 139.3 515.0 143.7 516.0 146.0 C517.0 148.3 514.0 153.3 512.0 154.0 C510.0 154.7 505.0 152.3 504.0 150.0 C503.0 147.7 504.0 140.7 506.0 140.0Z" fill="#8fa7c3"/>
<path d="M536.0 122.0 C538.0 120.0 548.7 118.7 552.0 120.0 C555.3 121.3 558.0 128.0 556.0 130.0 C554.0 132.0 543.3 133.3 540.0 132.0 C536.7 130.7 534.0 124.0 536.0 122.0Z" fill="#8fa7c3"/>
<path d="M486.0 222.0 C487.7 219.3 497.3 221.0 500.0 224.0 C502.7 227.0 503.7 237.3 502.0 240.0 C500.3 242.7 492.7 243.0 490.0 240.0 C487.3 237.0 484.3 224.7 486.0 222.0Z" fill="#8fa7c3"/>
<path d="M459.1 245.2 C458.9 244.2 459.7 241.9 460.8 240.3 C462.0 238.6 462.4 237.9 466.1 235.5 C469.7 233.0 478.1 228.2 482.7 225.4 C487.3 222.7 493.7 220.7 493.7 219.0 C493.7 217.3 485.2 216.5 482.7 215.5 C480.2 214.4 479.7 213.8 478.9 212.5 C478.2 211.2 477.7 208.7 478.0 207.4 C478.4 206.0 479.0 205.7 480.8 204.5 C482.6 203.2 487.4 201.6 489.1 199.9 C490.8 198.3 489.9 196.1 491.0 194.4 C492.0 192.7 495.3 191.5 495.5 189.9 C495.8 188.2 494.7 186.2 492.7 184.4 C490.7 182.6 485.1 180.4 483.5 178.9 C481.9 177.5 482.6 176.8 483.1 175.5 C483.6 174.3 485.0 172.6 486.4 171.5 C487.9 170.4 489.3 169.8 491.8 168.9 C494.3 168.0 499.2 167.3 501.4 166.1 C503.7 164.9 505.1 164.5 505.1 161.6 C505.1 158.7 501.9 151.8 501.4 148.8 C500.8 145.8 500.9 145.0 501.6 143.5 C502.2 142.0 503.8 140.5 505.3 139.8 C506.7 139.2 508.4 138.7 510.5 139.6 C512.6 140.5 516.0 143.6 517.9 145.2 C519.7 146.7 520.2 149.2 521.6 148.9 C522.9 148.6 525.2 146.7 526.1 143.3 C527.0 140.0 526.2 132.1 526.9 128.7 C527.6 125.4 528.8 124.4 530.2 123.3 C531.5 122.2 533.6 121.6 535.2 121.9 C536.8 122.2 538.2 123.5 539.7 125.1 C541.2 126.7 542.7 132.4 544.4 131.5 C546.1 130.6 548.5 122.3 549.8 119.7 C551.0 117.0 550.7 116.5 551.9 115.8 C553.1 115.0 555.4 114.6 557.0 115.0 C558.7 115.3 560.3 118.4 561.7 117.8 C563.0 117.2 564.1 113.3 565.3 111.3 C566.5 109.4 567.6 106.9 569.1 106.0 C570.6 105.1 572.5 105.1 574.3 105.9 C576.1 106.7 578.2 109.5 579.8 110.9 C581.5 112.2 582.5 114.3 584.2 113.9 C585.9 113.5 588.1 109.6 589.9 108.6 C591.8 107.6 593.3 107.4 595.1 108.0 C596.9 108.5 599.1 110.8 600.7 111.7 C602.3 112.6 603.6 113.4 604.9 113.2 C606.2 113.0 607.1 111.2 608.5 110.7 C610.0 110.2 612.4 110.0 613.7 110.3 C615.0 110.5 614.5 112.3 616.3 112.3 C618.1 112.2 622.1 110.8 624.5 110.1 C626.9 109.3 628.8 109.0 630.6 107.9 C632.4 106.7 633.6 104.1 635.3 103.2 C636.9 102.3 638.8 102.1 640.5 102.6 C642.2 103.1 643.9 104.6 645.5 106.2 C647.1 107.8 647.7 112.2 650.0 112.2 C652.2 112.2 656.4 107.3 658.9 106.2 C661.4 105.0 663.2 104.6 664.8 105.0 C666.4 105.5 667.5 106.8 668.3 108.9 C669.0 111.0 668.9 114.8 669.4 117.7 C669.9 120.5 670.0 124.4 671.2 125.9 C672.4 127.5 675.0 126.3 676.5 127.1 C677.9 128.0 679.2 129.2 680.1 130.8 C681.1 132.5 681.0 135.5 682.1 136.9 C683.2 138.4 683.9 138.9 686.7 139.6 C689.6 140.2 696.3 140.1 699.0 140.9 C701.8 141.6 702.4 142.1 703.1 144.2 C703.7 146.2 704.2 150.3 703.2 153.2 C702.3 156.1 696.3 161.1 697.4 161.7 C698.5 162.2 705.8 160.6 709.9 156.6 C714.0 152.7 719.3 141.5 722.0 137.7 C724.6 134.0 724.9 133.7 725.8 134.2 C726.7 134.6 727.4 137.1 727.2 140.4 C727.0 143.7 726.2 149.7 724.4 154.1 C722.5 158.5 719.1 162.5 716.3 166.8 C713.5 171.2 708.6 177.0 707.4 180.1 C706.1 183.1 707.0 184.1 708.8 184.9 C710.5 185.7 715.8 184.5 717.8 185.1 C719.7 185.6 720.3 186.9 720.7 188.3 C721.0 189.7 720.8 191.9 720.0 193.5 C719.3 195.0 716.5 196.2 716.2 197.5 C715.9 198.9 717.0 200.7 718.2 201.7 C719.5 202.7 722.5 202.3 723.7 203.7 C724.9 205.0 725.5 207.8 725.5 209.7 C725.5 211.5 724.8 213.4 723.7 214.6 C722.7 215.7 719.6 215.0 719.1 216.5 C718.6 218.1 720.1 221.9 720.7 224.0 C721.3 226.0 720.9 227.2 722.7 228.9 C724.5 230.6 728.4 231.5 731.7 234.1 C735.0 236.6 740.1 241.3 742.7 244.0 C745.4 246.7 746.6 248.2 747.5 250.1 C748.5 251.9 748.8 253.8 748.4 255.2 C747.9 256.6 748.5 258.7 745.0 258.3 C741.5 257.8 732.5 254.7 727.3 252.7 C722.2 250.7 717.7 246.5 714.0 246.1 C710.3 245.7 707.0 248.3 705.2 250.4 C703.3 252.6 701.9 256.8 703.0 259.2 C704.1 261.7 710.3 263.5 711.6 265.3 C713.0 267.2 712.9 269.3 711.2 270.5 C709.6 271.8 705.0 271.3 701.9 272.9 C698.9 274.5 693.2 277.0 693.2 279.9 C693.2 282.8 700.8 287.9 702.0 290.4 C703.3 292.8 701.8 293.7 700.7 294.6 C699.7 295.6 698.5 296.0 695.8 296.1 C693.1 296.3 687.3 293.9 684.5 295.5 C681.8 297.2 681.2 302.4 679.3 306.0 C677.4 309.7 675.0 314.9 673.2 317.3 C671.5 319.6 670.1 320.4 668.8 320.0 C667.5 319.5 667.0 315.7 665.6 314.4 C664.1 313.2 661.5 312.3 660.1 312.4 C658.6 312.6 657.2 313.8 656.8 315.4 C656.5 317.0 657.9 320.0 658.0 321.9 C658.0 323.8 658.1 325.8 657.1 326.7 C656.1 327.6 653.3 327.9 651.9 327.3 C650.6 326.6 650.5 323.9 649.1 322.8 C647.8 321.8 645.1 320.4 643.7 320.8 C642.2 321.2 641.2 323.0 640.4 325.3 C639.7 327.5 640.1 332.1 639.4 334.3 C638.7 336.4 637.7 337.4 636.3 338.2 C635.0 338.9 632.6 339.1 631.1 338.6 C629.6 338.1 628.7 337.1 627.3 335.2 C625.9 333.3 624.4 328.9 622.9 327.2 C621.5 325.6 620.0 324.8 618.6 325.2 C617.2 325.6 616.0 328.7 614.4 329.7 C612.9 330.6 610.7 331.2 609.4 330.9 C608.1 330.7 607.5 329.6 606.5 328.2 C605.5 326.8 604.5 323.0 603.3 322.7 C602.0 322.4 599.9 325.4 598.8 326.2 C597.8 327.0 598.1 327.5 597.0 327.5 C595.8 327.5 593.1 326.7 592.0 326.1 C590.8 325.4 591.2 322.5 590.1 323.7 C589.1 324.9 586.6 331.1 585.6 333.2 C584.6 335.3 585.2 335.6 584.1 336.3 C583.0 337.1 580.1 337.9 579.1 337.7 C578.0 337.6 578.1 337.2 577.5 335.4 C577.0 333.7 576.2 329.3 575.6 327.2 C574.9 325.2 574.6 323.6 573.6 323.2 C572.6 322.9 571.2 323.2 569.7 325.3 C568.2 327.3 565.8 333.4 564.6 335.5 C563.3 337.6 563.5 337.7 562.2 337.9 C561.0 338.0 558.3 337.2 557.3 336.3 C556.2 335.5 556.2 334.7 556.0 332.8 C555.8 330.9 555.7 327.1 556.0 324.8 C556.3 322.5 558.3 319.6 558.0 318.8 C557.8 318.1 555.3 319.4 554.5 320.3 C553.8 321.2 554.5 323.7 553.5 324.3 C552.5 324.8 549.5 324.5 548.3 323.6 C547.2 322.8 547.2 321.4 546.8 319.4 C546.4 317.3 546.5 312.9 545.9 311.4 C545.2 309.9 544.1 309.7 542.8 310.4 C541.5 311.1 539.6 314.3 537.8 315.4 C536.0 316.5 534.6 317.7 531.8 316.9 C529.1 316.2 525.4 311.7 521.5 311.0 C517.7 310.3 512.6 311.1 508.9 312.7 C505.2 314.3 502.1 318.4 499.3 320.5 C496.6 322.6 494.3 324.9 492.4 325.3 C490.4 325.7 487.8 324.4 487.7 323.0 C487.6 321.5 489.1 320.3 491.7 316.6 C494.3 313.0 500.4 306.0 503.3 301.2 C506.2 296.3 509.7 290.5 509.0 287.6 C508.4 284.7 502.2 285.1 499.5 283.9 C496.8 282.7 494.5 281.8 493.1 280.4 C491.7 279.0 491.2 277.6 491.3 275.6 C491.4 273.6 492.4 270.9 493.8 268.5 C495.2 266.0 498.8 263.7 499.6 260.8 C500.4 257.9 499.0 253.9 498.7 251.2 C498.4 248.5 500.8 245.6 497.8 244.7 C494.8 243.7 486.7 245.2 480.8 245.5 C474.9 245.8 465.9 246.5 462.3 246.5 C458.7 246.4 459.4 246.2 459.1 245.2Z" fill="none" stroke="#263a80" stroke-width="4.5" stroke-linejoin="round"/>
<path d="M694 184 Q701 182.5 706 185.5 Q701 191 695.5 195" fill="none" stroke="#263a80" stroke-width="1.5" stroke-linecap="round"/>
<path d="M629 312 Q636 318 642 310" fill="none" stroke="#263a80" stroke-width="1.6" stroke-linecap="round"/>
<path d="M523.5 291.5 L531 296.5 L533 306" fill="none" stroke="#263a80" stroke-width="3.6" stroke-linejoin="round"/>
<ellipse cx="703" cy="170" rx="3" ry="8" transform="rotate(20 703 170)" fill="#b9c9e0" stroke="none" stroke-width="0"/>
<ellipse cx="708" cy="205" rx="3" ry="9" transform="rotate(-10 708 205)" fill="#b9c9e0" stroke="none" stroke-width="0"/>
<ellipse cx="712" cy="240" rx="3" ry="7" transform="rotate(30 712 240)" fill="#b9c9e0" stroke="none" stroke-width="0"/>
<ellipse cx="700" cy="265" rx="3" ry="6" transform="rotate(0 700 265)" fill="#b9c9e0" stroke="none" stroke-width="0"/>
<ellipse cx="680" cy="290" rx="6" ry="3" transform="rotate(0 680 290)" fill="#b9c9e0" stroke="none" stroke-width="0"/>
<path d="M557.0 171.0 C557.9 164.7 560.5 157.7 564.6 152.3 C568.7 146.8 575.2 141.3 581.6 138.3 C588.1 135.3 595.5 134.2 603.3 134.2 C611.0 134.2 619.3 134.7 628.1 138.2 C636.9 141.8 648.3 148.8 656.0 155.3 C663.8 161.7 669.5 168.2 674.6 177.0 C679.8 185.8 684.7 198.7 687.0 208.0 C689.3 217.3 689.1 224.6 688.6 232.9 C688.1 241.1 686.8 250.9 684.0 257.6 C681.2 264.3 677.3 270.0 671.6 273.1 C665.9 276.2 657.0 277.2 649.7 276.2 C642.5 275.1 636.2 273.2 627.9 266.6 C619.6 260.1 609.3 247.0 600.0 237.0 C590.7 227.0 578.8 214.3 571.9 206.4 C565.0 198.5 561.3 195.5 558.8 189.6 C556.3 183.7 556.0 177.2 557.0 171.0Z" fill="#4a6da9" stroke="#3d5b97" stroke-width="2.2"/>
<path d="M560.0 170.0 C559.7 163.3 563.3 155.0 568.0 150.0 C572.7 145.0 581.0 142.0 588.0 140.0 C595.0 138.0 602.0 137.0 610.0 138.0 C618.0 139.0 627.7 141.3 636.0 146.0 C644.3 150.7 653.7 158.0 660.0 166.0 C666.3 174.0 670.7 184.3 674.0 194.0 C677.3 203.7 679.7 215.3 680.0 224.0 C680.3 232.7 681.0 242.3 676.0 246.0 C671.0 249.7 659.3 249.0 650.0 246.0 C640.7 243.0 629.7 234.7 620.0 228.0 C610.3 221.3 600.3 212.3 592.0 206.0 C583.7 199.7 575.3 196.0 570.0 190.0 C564.7 184.0 560.3 176.7 560.0 170.0Z" fill="#5479b3" filter="url(#blur3)"/>
<ellipse cx="555.8" cy="145" rx="5" ry="6" transform="rotate(0 555.8 145)" fill="#c9d6ea" stroke="none" stroke-width="0" opacity="0.85"/>
<ellipse cx="583.8" cy="130" rx="5" ry="4.5" transform="rotate(-20 583.8 130)" fill="#c9d6ea" stroke="none" stroke-width="0" opacity="0.85"/>
<ellipse cx="532.8" cy="157.7" rx="3.5" ry="4.5" transform="rotate(20 532.8 157.7)" fill="#c9d6ea" stroke="none" stroke-width="0" opacity="0.85"/>
<ellipse cx="515" cy="175.4" rx="3.5" ry="4.5" transform="rotate(0 515 175.4)" fill="#c9d6ea" stroke="none" stroke-width="0" opacity="0.85"/>
<ellipse cx="527.7" cy="189.8" rx="4" ry="3.5" transform="rotate(0 527.7 189.8)" fill="#c9d6ea" stroke="none" stroke-width="0" opacity="0.85"/>
<ellipse cx="539.8" cy="204.2" rx="6" ry="4.5" transform="rotate(-20 539.8 204.2)" fill="#c9d6ea" stroke="none" stroke-width="0" opacity="0.85"/>
<ellipse cx="584.9" cy="152.8" rx="4.6" ry="8.5" transform="rotate(-8 584.9 152.8)" fill="#a9bfe0" stroke="none" stroke-width="0" opacity="0.9"/>
<ellipse cx="596.8" cy="145.7" rx="3" ry="3" transform="rotate(0 596.8 145.7)" fill="#a9bfe0" stroke="none" stroke-width="0" opacity="0.9"/>
<ellipse cx="597.2" cy="167" rx="4.2" ry="5.5" transform="rotate(30 597.2 167)" fill="#a9bfe0" stroke="none" stroke-width="0" opacity="0.9"/>
<ellipse cx="594.8" cy="178.6" rx="2.3" ry="2.3" transform="rotate(0 594.8 178.6)" fill="#a9bfe0" stroke="none" stroke-width="0" opacity="0.9"/>
<ellipse cx="561.9" cy="175.1" rx="4" ry="6.5" transform="rotate(0 561.9 175.1)" fill="#a9bfe0" stroke="none" stroke-width="0" opacity="0.9"/>
<ellipse cx="566.5" cy="186" rx="2.2" ry="2.2" transform="rotate(0 566.5 186)" fill="#a9bfe0" stroke="none" stroke-width="0" opacity="0.9"/>
<ellipse cx="616.5" cy="140.5" rx="3.5" ry="4" transform="rotate(30 616.5 140.5)" fill="#a9bfe0" stroke="none" stroke-width="0" opacity="0.9"/>
<circle cx="619.7" cy="126" r="1.7000000000000002" fill="#5f80b9" stroke="#2f4b8b" stroke-width="3"/>
<circle cx="668.2" cy="146.3" r="3.5" fill="#5f80b9" stroke="#2f4b8b" stroke-width="3"/>
<circle cx="535.4" cy="166.6" r="4.7" fill="#5f80b9" stroke="#2f4b8b" stroke-width="3"/>
<circle cx="546.9" cy="187.6" r="5.7" fill="#5f80b9" stroke="#2f4b8b" stroke-width="3"/>
<circle cx="515" cy="211.3" r="4.1" fill="#5f80b9" stroke="#2f4b8b" stroke-width="3"/>
<circle cx="545.4" cy="208.6" r="2.9000000000000004" fill="#5f80b9" stroke="#2f4b8b" stroke-width="3"/>
<circle cx="539.4" cy="233.4" r="3.8" fill="#5f80b9" stroke="#2f4b8b" stroke-width="3"/>
<circle cx="569.5" cy="238" r="3.3" fill="#5f80b9" stroke="#2f4b8b" stroke-width="3"/>
<circle cx="587.4" cy="250.7" r="3.3" fill="#5f80b9" stroke="#2f4b8b" stroke-width="3"/>
<circle cx="543.2" cy="264.4" r="4.5" fill="#5f80b9" stroke="#2f4b8b" stroke-width="3"/>
<circle cx="604.5" cy="271.3" r="2.7" fill="#5f80b9" stroke="#2f4b8b" stroke-width="3"/>
<circle cx="641.4" cy="257" r="4.5" fill="#5f80b9" stroke="#2f4b8b" stroke-width="3"/>
<circle cx="701.4" cy="229.8" r="3.5" fill="#5f80b9" stroke="#2f4b8b" stroke-width="3"/>
<circle cx="557" cy="299.9" r="3.7" fill="#5f80b9" stroke="#2f4b8b" stroke-width="3"/>
<circle cx="592" cy="299.9" r="4.5" fill="#5f80b9" stroke="#2f4b8b" stroke-width="3"/>
<circle cx="648.3" cy="297.6" r="4.5" fill="#5f80b9" stroke="#2f4b8b" stroke-width="3"/>
<path d="M324.6 442 L315 425.2 L305.9 440.1 Z" fill="#222"/>
<path d="M342.1 426.0 C343.2 424.1 344.5 422.5 347.7 421.8 C350.9 421.1 356.9 421.6 361.5 421.8 C366.1 422.0 371.2 424.4 375.4 423.2 C379.5 422.0 382.2 416.5 386.4 414.9 C390.5 413.3 395.7 413.0 400.3 413.5 C404.9 414.0 410.4 414.7 414.1 417.7 C417.8 420.7 420.8 428.1 422.4 431.5 C424.0 434.9 421.5 437.9 423.8 438.4 C426.1 438.9 431.4 434.8 436.2 434.3 C441.0 433.9 448.7 433.9 452.9 435.7 C457.1 437.5 460.0 441.5 461.2 445.4 C462.4 449.3 461.6 456.2 459.8 459.2 C458.0 462.2 455.0 462.4 450.1 463.3 C445.2 464.2 435.8 464.5 430.7 464.7 C425.6 464.9 421.9 463.3 419.6 464.7 C417.3 466.1 416.4 469.8 416.9 473.0 C417.4 476.2 420.1 480.9 422.4 484.1 C424.7 487.3 428.4 488.7 430.7 492.4 C433.0 496.1 436.2 502.7 436.2 506.2 C436.2 509.7 433.5 511.8 430.7 513.2 C427.9 514.6 423.3 515.7 419.6 514.5 C415.9 513.3 411.8 509.0 408.6 506.2 C405.4 503.4 403.5 498.8 400.3 497.9 C397.1 497.0 392.6 500.0 389.2 500.7 C385.8 501.4 383.2 502.4 379.7 502.2 C376.2 502.0 371.0 501.8 368.1 499.7 C365.2 497.6 362.9 493.1 362.3 489.8 C361.8 486.5 363.0 482.6 364.8 479.8 C366.6 477.0 372.6 474.9 373.1 473.2 C373.7 471.5 370.9 470.2 368.1 469.9 C365.3 469.6 359.1 472.1 356.5 471.5 C353.9 470.9 352.4 468.4 352.4 466.5 C352.4 464.6 354.7 462.1 356.5 459.9 C358.3 457.7 362.3 455.8 363.1 453.3 C363.9 450.8 364.2 447.2 361.5 445.0 C358.8 442.8 350.1 442.0 346.6 440.0 C343.2 438.0 341.6 435.2 340.8 432.9 C340.1 430.6 341.0 427.9 342.1 426.0Z" fill="#d68283" stroke="#7a3a3e" stroke-width="1.5"/>
<path d="M375.4 439.8 C377.5 437.3 382.7 435.9 386.4 435.7 C390.1 435.5 394.7 436.1 397.5 438.4 C400.3 440.7 400.2 446.5 403.0 449.5 C405.8 452.5 412.7 454.1 414.1 456.4 C415.5 458.7 414.1 462.1 411.3 463.3 C408.5 464.5 401.6 462.1 397.5 463.3 C393.4 464.5 389.6 470.1 386.4 470.3 C383.2 470.5 380.2 467.9 378.1 464.7 C376.0 461.5 374.4 455.0 374.0 450.9 C373.6 446.8 373.3 442.3 375.4 439.8Z" fill="#b85c62" stroke="#a04a50" stroke-width="0.8"/>
<ellipse cx="410" cy="442" rx="6" ry="5" transform="rotate(0 410 442)" fill="#b85c62" stroke="#a04a50" stroke-width="0.8"/>
<ellipse cx="400.3" cy="480" rx="9.7" ry="6.9" transform="rotate(-20 400.3 480)" fill="#b85c62" stroke="#a04a50" stroke-width="0.8"/>
<ellipse cx="333.3" cy="413.5" rx="5" ry="7.7" transform="rotate(-15 333.3 413.5)" fill="#d68283" stroke="#7a3a3e" stroke-width="1.5"/>
<ellipse cx="336" cy="430.1" rx="2.8" ry="2.8" transform="rotate(0 336 430.1)" fill="#d68283" stroke="#7a3a3e" stroke-width="1.5"/>
<ellipse cx="340.8" cy="451.4" rx="6.9" ry="5.5" transform="rotate(30 340.8 451.4)" fill="#d68283" stroke="#7a3a3e" stroke-width="1.5"/>
<ellipse cx="371.2" cy="412.1" rx="8.9" ry="6.9" transform="rotate(0 371.2 412.1)" fill="#d68283" stroke="#7a3a3e" stroke-width="1.5"/>
<ellipse cx="408.6" cy="403.8" rx="9.7" ry="5.5" transform="rotate(20 408.6 403.8)" fill="#d68283" stroke="#7a3a3e" stroke-width="1.5"/>
<ellipse cx="441.8" cy="416.3" rx="15.2" ry="7.7" transform="rotate(30 441.8 416.3)" fill="#d68283" stroke="#7a3a3e" stroke-width="1.5"/>
<ellipse cx="430.7" cy="428.7" rx="3.3" ry="4.2" transform="rotate(0 430.7 428.7)" fill="#d68283" stroke="#7a3a3e" stroke-width="1.5"/>
<ellipse cx="445.9" cy="480" rx="18" ry="9.7" transform="rotate(10 445.9 480)" fill="#d68283" stroke="#7a3a3e" stroke-width="1.5"/>
<ellipse cx="447.3" cy="503.5" rx="3.9" ry="7.5" transform="rotate(-20 447.3 503.5)" fill="#d68283" stroke="#7a3a3e" stroke-width="1.5"/>
<ellipse cx="407.2" cy="525.6" rx="10.5" ry="6.9" transform="rotate(0 407.2 525.6)" fill="#d68283" stroke="#7a3a3e" stroke-width="1.5"/>
<path d="M331.6 478.1 C332.3 475.1 334.4 472.9 336.6 471.5 C338.8 470.1 342.4 469.6 344.9 469.9 C347.4 470.2 349.1 471.5 351.5 473.2 C353.9 474.9 358.4 477.6 359.0 479.8 C359.6 482.0 356.7 483.9 354.9 486.4 C353.1 488.9 351.0 493.2 348.2 494.7 C345.4 496.2 340.9 496.3 338.3 495.5 C335.7 494.7 333.6 492.7 332.5 489.8 C331.4 486.9 330.9 481.2 331.6 478.1Z" fill="#d68283" stroke="#7a3a3e" stroke-width="1.5"/>
<path d="M351.5 511.3 C352.6 508.8 354.9 505.9 358.2 504.7 C361.5 503.4 367.0 503.5 371.4 503.8 C375.8 504.1 381.5 504.8 384.7 506.3 C387.9 507.8 389.9 510.2 390.5 513.0 C391.1 515.8 390.6 520.4 388.0 522.9 C385.4 525.4 379.8 527.3 374.8 527.9 C369.8 528.5 362.1 527.6 358.2 526.2 C354.3 524.8 352.6 522.1 351.5 519.6 C350.4 517.1 350.4 513.8 351.5 511.3Z" fill="#d68283" stroke="#7a3a3e" stroke-width="1.5"/>
<circle cx="344" cy="480" r="2.5" fill="#b85c62"/>
<circle cx="369" cy="411" r="2.2" fill="#b85c62"/>
<circle cx="390" cy="425" r="2" fill="#b85c62"/>
<circle cx="404" cy="418" r="2.6" fill="#b85c62"/>
<circle cx="364" cy="437" r="1.8" fill="#b85c62"/>
<circle cx="377" cy="458" r="1.8" fill="#b85c62"/>
<circle cx="420" cy="450" r="1.8" fill="#b85c62"/>
<circle cx="446" cy="452" r="2" fill="#b85c62"/>
<circle cx="448" cy="481" r="2" fill="#b85c62"/>
<circle cx="372" cy="511" r="2" fill="#b85c62"/>
<circle cx="408" cy="524" r="2.2" fill="#b85c62"/>
<circle cx="415" cy="487" r="2" fill="#b85c62"/>
<circle cx="398" cy="492" r="2" fill="#b85c62"/>
<circle cx="414" cy="416" r="1.5" fill="#b85c62"/>
<circle cx="440" cy="416" r="2" fill="#b85c62"/>
<circle cx="185.6" cy="314.8" r="10.3" fill="#d2a12a" stroke="#24180e" stroke-width="1.9"/>
<circle cx="223.8" cy="324.4" r="10.3" fill="#d2a12a" stroke="#24180e" stroke-width="1.9"/>
<circle cx="254.2" cy="340.5" r="10.3" fill="#d2a12a" stroke="#24180e" stroke-width="1.9"/>
<circle cx="299.9" cy="352.6" r="10.3" fill="#d2a12a" stroke="#24180e" stroke-width="1.9"/>
<circle cx="356.9" cy="355.8" r="10.3" fill="#d2a12a" stroke="#24180e" stroke-width="1.9"/>
<circle cx="408.2" cy="363.2" r="10.3" fill="#d2a12a" stroke="#24180e" stroke-width="1.9"/>
<circle cx="475.8" cy="347" r="10.3" fill="#d2a12a" stroke="#24180e" stroke-width="1.9"/>
<circle cx="520.8" cy="310.4" r="10.3" fill="#d2a12a" stroke="#24180e" stroke-width="1.9"/>
<g font-family="Liberation Sans, sans-serif" font-weight="bold" fill="#141414" opacity="0.999">
<text x="199.5" y="34.4" font-size="16.5" text-anchor="middle" >TNBC cell</text>
<text x="616" y="87" font-size="16.5" text-anchor="middle" >NK cell</text>
<text x="187" y="140.5" font-size="17" text-anchor="start" transform="rotate(9 187 140.5)">HER2-</text>
<text x="273" y="200.8" font-size="15.8" text-anchor="start" >ER-</text>
<text x="301.5" y="291.5" font-size="15.8" text-anchor="start" >PR-</text>
<text x="363" y="191.8" font-size="13.5" text-anchor="start" >Ligand</text>
<text x="454" y="152.6" font-size="14" text-anchor="middle" >Activating</text>
<text x="452.5" y="169.6" font-size="14" text-anchor="middle" >Receptor</text>
<text x="448" y="299.5" font-size="13.7" text-anchor="middle" >Inhibitory</text>
<text x="447" y="316.3" font-size="13.7" text-anchor="middle" >Receptor</text>
<text x="537.5" y="365.3" font-size="15" text-anchor="middle" >Secretion of</text>
<text x="537.5" y="383" font-size="15" text-anchor="middle" >granzymes &amp; perforin</text>
<text x="257" y="471.2" font-size="16.5" text-anchor="middle" >Lysis of TNBC cell</text>
</g></svg></body></html>
